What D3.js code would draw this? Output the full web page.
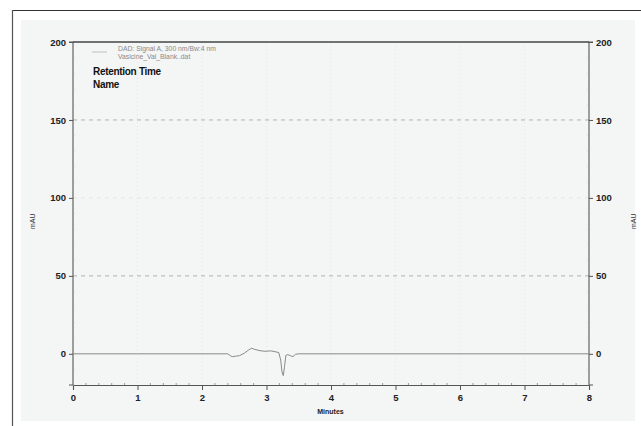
<!DOCTYPE html>
<html>
<head>
<meta charset="utf-8">
<script src="https://cdn.jsdelivr.net/npm/d3@7"></script>
<style>
  html, body { margin: 0; padding: 0; background: #fff; }
  svg { display: block; }
  text { font-family: "Liberation Sans", Arial, sans-serif; }
</style>
</head>
<body>
<svg id="chart" width="641" height="426"></svg>
<script>
// Chromatogram trace: retention time (min) and detector response (mAU)
const times  = [0, 1, 2, 2.40, 2.44, 2.47, 2.52, 2.58, 2.66, 2.72, 2.77, 2.82, 2.90, 2.98, 3.06, 3.13, 3.19, 3.22, 3.24, 3.26, 3.28, 3.30, 3.33, 3.37, 3.41, 3.45, 3.50, 4, 5, 6, 7, 8];
const signal = [0, 0, 0, 0.0, -1.2, -1.8, -1.5, -1.2, 0.5, 2.4, 3.6, 2.8, 2.0, 1.6, 1.9, 1.4, 0.8, -4.0, -11.5, -14.0, -8.0, -1.0, -0.5, -1.2, -1.8, -0.3, 0, 0, 0, 0, 0, 0];

const xTicks = [0, 1, 2, 3, 4, 5, 6, 7, 8];
const yTicks = [0, 50, 100, 150, 200];
const yGrid  = [50, 100, 150];
const legendLines = ["DAD: Signal A, 300 nm/Bw:4 nm", "Vasicine_Val_Blank..dat"];
const peakTableHeads = ["Retention Time", "Name"];

const svg = d3.select("#chart");
const W = 641, H = 426;
const m = { left: 73, right: 641 - 589, top: 42, bottom: 426 - 385 };

// paper area and outer frame
svg.append("rect").attr("x", 21).attr("y", 20).attr("width", 614).attr("height", 401).attr("fill", "#f4f5f5");
svg.append("line").attr("x1", 12).attr("x2", W).attr("y1", 10.5).attr("y2", 10.5).attr("stroke", "#333").attr("stroke-width", 1.2);
svg.append("line").attr("x1", 12.5).attr("x2", 12.5).attr("y1", 10).attr("y2", H).attr("stroke", "#555").attr("stroke-width", 1.2);

const x = d3.scaleLinear().domain([0, 8]).range([m.left, W - m.right]);
const y = d3.scaleLinear().domain([-20, 200]).range([H - m.bottom, m.top]);

// grid
svg.append("g").selectAll("line").data(xTicks.slice(1, -1)).join("line")
  .attr("x1", d => x(d)).attr("x2", d => x(d))
  .attr("y1", y(200)).attr("y2", y(-20))
  .attr("stroke", "#dfe0e0").attr("stroke-width", 0.8).attr("stroke-dasharray", "1,3");
svg.append("g").selectAll("line").data(yGrid).join("line")
  .attr("x1", x(0)).attr("x2", x(8))
  .attr("y1", d => y(d)).attr("y2", d => y(d))
  .attr("stroke", d => d === 100 ? "#e2e3e3" : "#a9a9a9").attr("stroke-width", 0.9)
  .attr("stroke-dasharray", "4,4");

const axisColor = "#555";
const tickFont = "bold 9.5px 'Liberation Sans', Arial, sans-serif";

// bottom axis
const bottom = svg.append("g").attr("transform", `translate(0,${y(-20)})`)
  .call(d3.axisBottom(x).tickValues(xTicks).tickFormat(d3.format("d")).tickSize(5).tickPadding(4));
// left axis
const left = svg.append("g").attr("transform", `translate(${x(0)},0)`)
  .call(d3.axisLeft(y).tickValues(yTicks).tickFormat(d3.format("d")).tickSize(4).tickPadding(3));
// right axis
const right = svg.append("g").attr("transform", `translate(${x(8)},0)`)
  .call(d3.axisRight(y).tickValues(yTicks).tickFormat(d3.format("d")).tickSize(4).tickPadding(3));

[bottom, left, right].forEach(g => {
  g.select(".domain").attr("stroke", axisColor).attr("stroke-width", 1.1);
  g.selectAll(".tick line").attr("stroke", axisColor);
  g.selectAll(".tick text").attr("fill", "#222").style("font", tickFont);
});
left.select(".domain").attr("d", `M-4,${y(-20)}H0V${y(200)}H-4`);
right.select(".domain").attr("d", `M4,${y(-20)}H0V${y(200)}H4`);

// top frame of plot
svg.append("line").attr("x1", x(0)).attr("x2", x(8)).attr("y1", y(200)).attr("y2", y(200))
  .attr("stroke", "#444").attr("stroke-width", 1.3);

// minor ticks
const minorX = d3.range(0, 8.001, 0.2).filter(v => Math.abs(v - Math.round(v)) > 1e-6);
svg.append("g").selectAll("line").data(minorX).join("line")
  .attr("x1", d => x(d)).attr("x2", d => x(d))
  .attr("y1", y(-20)).attr("y2", y(-20) - 2)
  .attr("stroke", "#888").attr("stroke-width", 0.8);
const minorY = d3.range(-20, 200, 10).filter(v => v % 50 !== 0);
[x(0), x(8)].forEach((px, i) => {
  svg.append("g").selectAll("line").data(minorY).join("line")
    .attr("x1", px).attr("x2", i === 0 ? px + 1.5 : px - 1.5)
    .attr("y1", d => y(d)).attr("y2", d => y(d))
    .attr("stroke", "#aaa").attr("stroke-width", 0.6);
});

// axis titles
svg.append("text").attr("x", W / 2 + 10).attr("y", 414).attr("text-anchor", "middle")
  .style("font", "bold 7px 'Liberation Sans', Arial, sans-serif").attr("fill", "#222").text("Minutes");
svg.append("text").attr("transform", `translate(35,${y(85)}) rotate(-90)`).attr("text-anchor", "middle")
  .style("font", "7px 'Liberation Sans', Arial, sans-serif").attr("fill", "#333").text("mAU");
svg.append("text").attr("transform", `translate(636,${y(85)}) rotate(-90)`).attr("text-anchor", "middle")
  .style("font", "7px 'Liberation Sans', Arial, sans-serif").attr("fill", "#333").text("mAU");

// trace
const line = d3.line().x((d, i) => x(times[i])).y(d => y(d));
svg.append("path").datum(signal).attr("d", line)
  .attr("fill", "none").attr("stroke", "#8a8a8a").attr("stroke-width", 1).attr("stroke-linejoin", "round");

// legend
svg.append("line").attr("x1", 92).attr("x2", 107).attr("y1", 52).attr("y2", 52)
  .attr("stroke", "#b0b0b0").attr("stroke-width", 0.8);
svg.append("g").selectAll("text").data(legendLines).join("text")
  .attr("x", 118).attr("y", (d, i) => 51 + i * 8)
  .style("font", "6.8px 'Liberation Sans', Arial, sans-serif").attr("fill", "#8a8a8a").text(d => d);
svg.append("g").selectAll("text").data(peakTableHeads).join("text")
  .attr("x", 93).attr("y", (d, i) => 75 + i * 12.5)
  .style("font", "bold 10px 'Liberation Sans', Arial, sans-serif").attr("fill", "#111")
  .attr("letter-spacing", "-0.3").text(d => d);
</script>
</body>
</html>
